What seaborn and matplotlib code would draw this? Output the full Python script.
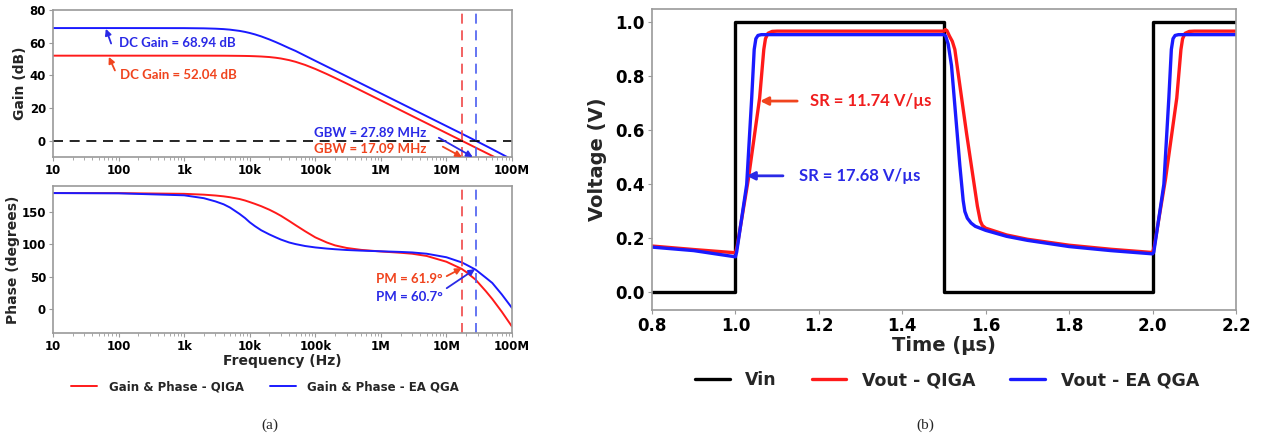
import numpy as np
import pandas as pd
import matplotlib
matplotlib.use("Agg")
import matplotlib.pyplot as plt
from matplotlib.lines import Line2D
import seaborn as sns

# ---------------- data ----------------
freq = [10, 100, 1e3, 2e3, 3e3, 4e3, 5e3, 7e3, 8.5e3, 1e4, 1.2e4, 1.5e4, 2e4,
        2.5e4, 3e4, 4e4, 5e4, 7e4, 1e5, 1.5e5, 2e5, 3e5, 5e5, 1e6, 2e6, 3e6,
        5e6, 1e7, 1.709e7, 2e7, 2.789e7, 4e7, 5e7, 7e7, 1e8]
gain_qiga = [52.04, 52.04, 52.04, 52.03, 52.02, 52.01, 51.98, 51.92, 51.87, 51.81,
             51.70, 51.53, 51.19, 50.76, 50.30, 49.30, 48.29, 46.37, 43.92, 40.79,
             38.43, 35.02, 30.64, 24.65, 18.63, 15.11, 10.67, 4.65, 0.0, -1.37,
             -4.26, -7.39, -9.33, -12.3, -15.4]
gain_ea = [68.94, 68.94, 68.90, 68.77, 68.56, 68.30, 67.97, 67.21, 66.58, 65.93,
           65.07, 63.83, 61.95, 60.34, 58.94, 56.64, 54.95, 52.00, 48.90, 45.39,
           42.92, 39.40, 34.96, 28.94, 22.92, 19.40, 14.96, 8.94, 4.29, 2.92,
           0.0, -3.2, -5.2, -8.3, -11.6]
phase_qiga = [180, 179.9, 178.8, 177.5, 176.2, 174.9, 173.5, 170.7, 168.4, 166.0,
              163.2, 159.5, 154.0, 149.0, 144.5, 136.5, 130, 120.5, 111, 103,
              98.5, 94.5, 91.5, 89, 87, 85.5, 82, 73, 61.9, 57,
              45, 27, 15, -5, -28]
phase_ea = [180, 179.6, 176.5, 172, 167, 162.5, 157.5, 147.5, 141, 134.5,
            128.5, 122, 115.5, 111, 107.5, 103, 100.5, 97.5, 95.3, 93.5,
            92.5, 91.3, 90.3, 89.3, 88.3, 87.5, 85.5, 80, 72, 68.5,
            60.7, 48, 40, 22, 1]
gbw_qiga = 17.09e6
gbw_ea = 27.89e6
freq_ticks = [10, 100, 1e3, 1e4, 1e5, 1e6, 1e7, 1e8]
freq_labels = ["10", "100", "1k", "10k", "100k", "1M", "10M", "100M"]

t_vin = [0.8, 1.0, 1.0, 1.5, 1.5, 2.0, 2.0, 2.2]
v_vin = [0, 0, 1, 1, 0, 0, 1, 1]
t_qiga = [0.8, 0.9, 1.0, 1.004, 1.031, 1.058, 1.068, 1.072, 1.078, 1.088, 1.1,
          1.5, 1.503, 1.507, 1.513, 1.52, 1.526, 1.554, 1.58, 1.587, 1.592, 1.6,
          1.65, 1.7, 1.8, 1.9, 2.0, 2.004, 2.031, 2.058, 2.068, 2.072, 2.078,
          2.088, 2.1, 2.2]
v_qiga = [0.172, 0.159, 0.147, 0.17, 0.42, 0.72, 0.90, 0.94, 0.96, 0.967, 0.968,
          0.968, 0.974, 0.970, 0.95, 0.93, 0.90, 0.59, 0.32, 0.265, 0.248, 0.238,
          0.213, 0.197, 0.175, 0.160, 0.148, 0.17, 0.42, 0.72, 0.90, 0.94, 0.96,
          0.967, 0.968, 0.968]
t_ea = [0.8, 0.9, 1.0, 1.003, 1.027, 1.039, 1.045, 1.049, 1.054, 1.062,
        1.5, 1.504, 1.51, 1.518, 1.538, 1.546, 1.55, 1.556, 1.565, 1.575, 1.6,
        1.65, 1.7, 1.8, 1.9, 2.0, 2.003, 2.027, 2.039, 2.045, 2.049, 2.054,
        2.062, 2.2]
v_ea = [0.168, 0.155, 0.132, 0.15, 0.40, 0.72, 0.90, 0.94, 0.952, 0.955,
        0.955, 0.95, 0.92, 0.84, 0.47, 0.34, 0.30, 0.275, 0.257, 0.245, 0.23,
        0.208, 0.193, 0.170, 0.155, 0.143, 0.15, 0.40, 0.72, 0.90, 0.94, 0.952,
        0.955, 0.955]

# ---------------- style ----------------
sns.set_style("white")
plt.rcParams["font.family"] = ["DejaVu Sans"]
plt.rcParams["font.weight"] = "bold"
plt.rcParams["axes.labelweight"] = "bold"

RED = "#ff1a1a"
BLUE = "#1a1aff"
ARED = "#f0441e"
ABLUE = "#2a2ae6"
SPINE = "#9a9a9a"
ANN_FONT = "Lato"

fig = plt.figure(figsize=(12.61, 4.38), dpi=100)
W, H = 1261, 438


def ax_px(x0, y0, x1, y1):
    return fig.add_axes([x0 / W, 1 - y1 / H, (x1 - x0) / W, (y1 - y0) / H])


ax_g = ax_px(53, 10, 512, 157)
ax_p = ax_px(53, 186, 512, 333)
ax_t = ax_px(652, 9, 1236, 310)


def style_ax(ax, fs):
    for s in ax.spines.values():
        s.set_color(SPINE)
        s.set_linewidth(1.2)
    ax.tick_params(axis="both", which="both", colors=SPINE, labelcolor="black",
                   labelsize=fs, direction="out", bottom=True, left=True,
                   top=False, right=False)
    ax.tick_params(axis="both", which="major", length=3, width=0.8, pad=2)
    ax.tick_params(axis="both", which="minor", length=1.8, width=0.6)
    for lab in ax.get_xticklabels() + ax.get_yticklabels():
        lab.set_fontweight("bold")


bode = pd.DataFrame({"freq": freq, "gq": gain_qiga, "ge": gain_ea,
                     "pq": phase_qiga, "pe": phase_ea})

# Gain
sns.lineplot(data=bode, x="freq", y="gq", color=RED, lw=1.4, ax=ax_g,
             estimator=None, sort=False)
sns.lineplot(data=bode, x="freq", y="ge", color=BLUE, lw=1.4, ax=ax_g,
             estimator=None, sort=False)
ax_g.axhline(0, color="black", lw=1.2, ls=(0, (6, 4)))
# Phase
sns.lineplot(data=bode, x="freq", y="pq", color=RED, lw=1.4, ax=ax_p,
             estimator=None, sort=False)
sns.lineplot(data=bode, x="freq", y="pe", color=BLUE, lw=1.4, ax=ax_p,
             estimator=None, sort=False)

for ax in (ax_g, ax_p):
    ax.axvline(gbw_qiga, color="#f04848", lw=1.2, ls=(0, (6, 4)))
    ax.axvline(gbw_ea, color="#4a5ef0", lw=1.2, ls=(0, (6, 4)))
    ax.set_xscale("log")
    ax.set_xlim(10, 1e8)
    ax.set_xticks(freq_ticks)
    ax.set_xticklabels(freq_labels)
    ax.set_xlabel("")

ax_g.set_ylim(-10, 80)
ax_g.set_yticks([0, 20, 40, 60, 80])
ax_g.set_ylabel("Gain (dB)", fontsize=10, fontweight="bold", labelpad=2)
ax_p.set_ylim(-38, 191)
ax_p.set_yticks([0, 50, 100, 150])
ax_p.set_ylabel("Phase (degrees)", fontsize=10, fontweight="bold", labelpad=1)
ax_p.set_xlabel("Frequency (Hz)", fontsize=10, fontweight="bold", labelpad=1)
style_ax(ax_g, 8.5)
style_ax(ax_p, 8.5)

arr = dict(arrowstyle="-|>", lw=1.3, mutation_scale=9, shrinkA=0, shrinkB=0)

# Gain annotations
ax_g.annotate("", xy=(64, 68.5), xytext=(77, 59.5),
              arrowprops=dict(color=ABLUE, **arr))
ax_g.text(101, 59.7, "DC Gain = 68.94 dB", color=ABLUE, fontsize=9.5,
          fontweight="bold", family=ANN_FONT, va="center", ha="left")
ax_g.annotate("", xy=(71, 51.3), xytext=(88, 43.0),
              arrowprops=dict(color=ARED, **arr))
ax_g.text(105, 40.0, "DC Gain = 52.04 dB", color=ARED, fontsize=9.5,
          fontweight="bold", family=ANN_FONT, va="center", ha="left")
ax_g.text(95e3, 4.9, "GBW = 27.89 MHz", color=ABLUE, fontsize=9.5,
          fontweight="bold", family=ANN_FONT, va="center", ha="left")
ax_g.annotate("", xy=(25.2e6, -10), xytext=(7.66e6, 1.8),
              arrowprops=dict(color=ABLUE, **arr), annotation_clip=False)
ax_g.text(95e3, -4.9, "GBW = 17.09 MHz", color=ARED, fontsize=9.5,
          fontweight="bold", family=ANN_FONT, va="center", ha="left")
ax_g.annotate("", xy=(17.2e6, -10), xytext=(8.8e6, -3.7),
              arrowprops=dict(color=ARED, **arr), annotation_clip=False)

# Phase annotations
ax_p.text(8.3e5, 45.9, "PM = 61.9°", color=ARED, fontsize=9.5,
          fontweight="bold", family=ANN_FONT, va="center", ha="left")
ax_p.annotate("", xy=(17.09e6, 63), xytext=(10.1e6, 50.6),
              arrowprops=dict(color=ARED, **arr))
ax_p.text(8.3e5, 17.7, "PM = 60.7°", color=ABLUE, fontsize=9.5,
          fontweight="bold", family=ANN_FONT, va="center", ha="left")
ax_p.annotate("", xy=(27.3e6, 61.5), xytext=(10.1e6, 31.8),
              arrowprops=dict(color=ABLUE, **arr))

# Legend (a)
hl = [Line2D([], [], color=RED, lw=1.4), Line2D([], [], color=BLUE, lw=1.4)]
fig.legend(hl, ["Gain & Phase - QIGA", "Gain & Phase - EA QGA"],
           loc="center", bbox_to_anchor=(265 / W, 1 - 387 / H), ncol=2,
           frameon=False, prop=dict(size=8.5, weight="bold"),
           handlelength=2.2, columnspacing=2.2, handletextpad=1.0)
fig.text(270 / W, 1 - 425 / H, "(a)", ha="center", va="center",
         family="Liberation Serif", fontsize=11, fontweight="normal")

# ---------------- transient ----------------
df_vin = pd.DataFrame({"t": t_vin, "v": v_vin})
df_q = pd.DataFrame({"t": t_qiga, "v": v_qiga})
df_e = pd.DataFrame({"t": t_ea, "v": v_ea})
sns.lineplot(data=df_vin, x="t", y="v", color="black", lw=2.4, ax=ax_t,
             estimator=None, sort=False)
sns.lineplot(data=df_q, x="t", y="v", color=RED, lw=2.4, ax=ax_t,
             estimator=None, sort=False)
sns.lineplot(data=df_e, x="t", y="v", color=BLUE, lw=2.4, ax=ax_t,
             estimator=None, sort=False)
ax_t.set_xlim(0.8, 2.2)
ax_t.set_ylim(-0.065, 1.05)
ax_t.set_xticks(np.round(np.arange(0.8, 2.21, 0.2), 1))
ax_t.set_yticks(np.round(np.arange(0, 1.01, 0.2), 1))
ax_t.set_xlabel("Time (µs)", fontsize=14, fontweight="bold", labelpad=1)
ax_t.set_ylabel("Voltage (V)", fontsize=14, fontweight="bold", labelpad=6)
style_ax(ax_t, 12)

arr2 = dict(arrowstyle="-|>", lw=2.0, mutation_scale=12, shrinkA=0, shrinkB=0)
ax_t.annotate("", xy=(1.059, 0.709), xytext=(1.148, 0.709),
              arrowprops=dict(color=ARED, **arr2))
ax_t.text(1.179, 0.709, "SR = 11.74 V/µs", color="#f01e1e", fontsize=12,
          fontweight="bold", family=ANN_FONT, va="center", ha="left")
ax_t.annotate("", xy=(1.027, 0.432), xytext=(1.114, 0.432),
              arrowprops=dict(color=ABLUE, **arr2))
ax_t.text(1.152, 0.432, "SR = 17.68 V/µs", color=ABLUE, fontsize=12,
          fontweight="bold", family=ANN_FONT, va="center", ha="left")

hr = [Line2D([], [], color="black", lw=2.4), Line2D([], [], color=RED, lw=2.4),
      Line2D([], [], color=BLUE, lw=2.4)]
fig.legend(hr, ["Vin", "Vout - QIGA", "Vout - EA QGA"], loc="center",
           bbox_to_anchor=(947 / W, 1 - 380 / H), ncol=3, frameon=False,
           prop=dict(size=12.5, weight="bold"), handlelength=2.0,
           columnspacing=2.0, handletextpad=0.9)
fig.text(925 / W, 1 - 425 / H, "(b)", ha="center", va="center",
         family="Liberation Serif", fontsize=11, fontweight="normal")

fig.savefig("out.png", dpi=100)
